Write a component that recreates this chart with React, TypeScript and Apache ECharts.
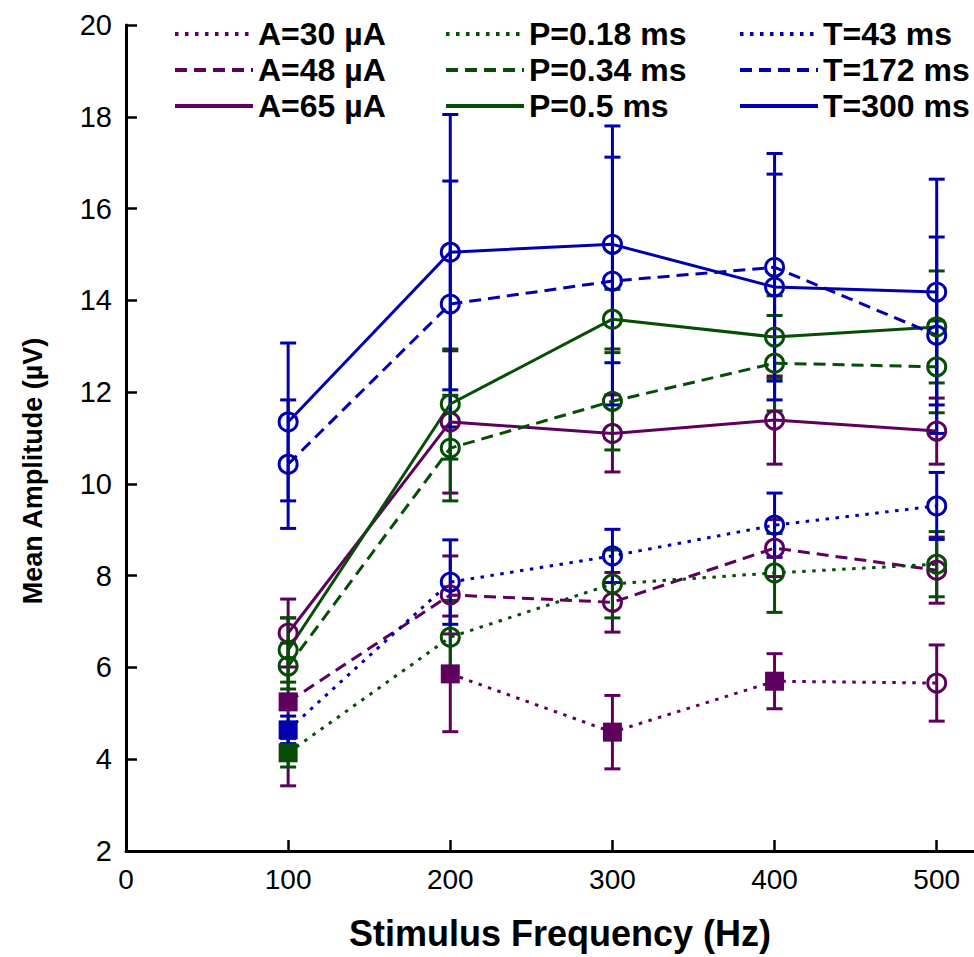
import React, { useEffect, useRef } from "react";
import * as echarts from "echarts";

// ---- data ----
const FREQ = [100, 200, 300, 400, 500];
const X_TICKS = [100, 200, 300, 400, 500];
const X_LABELS = [0, 100, 200, 300, 400, 500];

const A30_MEAN = [null, 5.86, 4.59, 5.7, 5.66];
const A30_ERR = [null, 1.26, 0.8, 0.6, 0.83];
const A30_FILLED = [0, 1, 1, 1, 0];

const A48_MEAN = [5.25, 7.58, 7.42, 8.6, 8.12];
const A48_ERR = [1.83, 0.85, 0.65, 0.62, 0.72];
const A48_FILLED = [1, 0, 0, 0, 0];

const A65_MEAN = [6.75, 11.35, 11.1, 11.39, 11.15];
const A65_ERR = [0.74, 1.55, 0.84, 0.96, 0.72];
const A65_FILLED = [0, 0, 0, 0, 0];

const P018_MEAN = [4.14, 6.66, 7.82, 8.06, 8.25];
const P018_ERR = [0.31, 0.8, 0.74, 0.86, 0.71];
const P018_FILLED = [1, 0, 0, 0, 0];

const P034_MEAN = [6.03, 10.78, 11.8, 12.63, 12.55];
const P034_ERR = [0.5, 1.15, 1.06, 1.04, 1.0];
const P034_FILLED = [0, 0, 0, 0, 0];

const P05_MEAN = [6.38, 11.74, 13.59, 13.2, 13.42];
const P05_ERR = [0.7, 1.2, 0.65, 0.9, 1.22];
const P05_FILLED = [0, 0, 0, 0, 0];

const T43_MEAN = [4.64, 7.86, 8.43, 9.1, 9.52];
const T43_ERR = [0.3, 0.92, 0.58, 0.7, 0.73];
const T43_FILLED = [1, 0, 0, 0, 0];

const T172_MEAN = [10.43, 13.92, 14.42, 14.72, 13.24];
const T172_ERR = [1.4, 2.68, 2.7, 2.48, 2.14];
const T172_FILLED = [0, 0, 0, 0, 0];

const T300_MEAN = [11.35, 15.05, 15.22, 14.29, 14.18];
const T300_ERR = [1.72, 3.0, 2.58, 2.46, 2.46];
const T300_FILLED = [0, 0, 0, 0, 0];

const PURPLE = "#5e005e";
const GREEN = "#064d06";
const BLUE = "#0000b0";

const DASHED = [12, 7];
const DOTTED = [3.5, 6.5];

const SERIES_DEFS = [
  { name: "A=30 µA", mean: A30_MEAN, err: A30_ERR, filled: A30_FILLED, color: PURPLE, dash: DOTTED },
  { name: "A=48 µA", mean: A48_MEAN, err: A48_ERR, filled: A48_FILLED, color: PURPLE, dash: DASHED },
  { name: "A=65 µA", mean: A65_MEAN, err: A65_ERR, filled: A65_FILLED, color: PURPLE, dash: "solid" },
  { name: "P=0.18 ms", mean: P018_MEAN, err: P018_ERR, filled: P018_FILLED, color: GREEN, dash: DOTTED },
  { name: "P=0.34 ms", mean: P034_MEAN, err: P034_ERR, filled: P034_FILLED, color: GREEN, dash: DASHED },
  { name: "P=0.5 ms", mean: P05_MEAN, err: P05_ERR, filled: P05_FILLED, color: GREEN, dash: "solid" },
  { name: "T=43 ms", mean: T43_MEAN, err: T43_ERR, filled: T43_FILLED, color: BLUE, dash: DOTTED },
  { name: "T=172 ms", mean: T172_MEAN, err: T172_ERR, filled: T172_FILLED, color: BLUE, dash: DASHED },
  { name: "T=300 ms", mean: T300_MEAN, err: T300_ERR, filled: T300_FILLED, color: BLUE, dash: "solid" },
];

const FONT = "'Liberation Sans', Arial, sans-serif";

function buildOption() {
  const series: any[] = [];
  SERIES_DEFS.forEach((d) => {
    const lineData = FREQ.map((x, i) => {
      const v = d.mean[i];
      if (v === null) return { value: [x, "-"] };
      if (d.filled[i]) {
        return {
          value: [x, v],
          symbol: "rect",
          symbolSize: 19,
          itemStyle: { color: d.color, borderColor: d.color, borderWidth: 0 },
        };
      }
      return { value: [x, v] };
    });
    series.push({
      name: d.name,
      type: "line",
      data: lineData,
      connectNulls: false,
      symbol: "circle",
      symbolSize: 18,
      showSymbol: true,
      itemStyle: { color: "rgba(0,0,0,0)", borderColor: d.color, borderWidth: 3 },
      lineStyle: { color: d.color, width: 3, type: d.dash },
      emphasis: { disabled: true },
      z: 3,
    });
    const errData: any[] = [];
    FREQ.forEach((x, i) => {
      const v = d.mean[i];
      const e = d.err[i];
      if (v === null || e === null) return;
      errData.push([x, v - e, v + e]);
    });
    const color = d.color;
    series.push({
      name: d.name + " err",
      type: "custom",
      data: errData,
      encode: { x: 0, y: [1, 2] },
      z: 2,
      renderItem: (params: any, api: any) => {
        const x = api.value(0);
        const lo = api.coord([x, api.value(1)]);
        const hi = api.coord([x, api.value(2)]);
        const hw = 8;
        const style = { stroke: color, lineWidth: 3 };
        return {
          type: "group",
          children: [
            { type: "line", shape: { x1: lo[0], y1: lo[1], x2: hi[0], y2: hi[1] }, style },
            { type: "line", shape: { x1: lo[0] - hw, y1: lo[1], x2: lo[0] + hw, y2: lo[1] }, style },
            { type: "line", shape: { x1: hi[0] - hw, y1: hi[1], x2: hi[0] + hw, y2: hi[1] }, style },
          ],
        };
      },
    });
  });

  const legendCommon = {
    orient: "vertical",
    itemWidth: 78,
    itemHeight: 12,
    itemGap: 4,
    top: 13,
    itemStyle: { opacity: 0 },
    lineStyle: { width: 4 },
    textStyle: {
      fontFamily: FONT,
      fontWeight: "bold",
      fontSize: 32,
      lineHeight: 31,
      color: "#000",
    },
    selectedMode: false,
  };

  return {
    animation: false,
    backgroundColor: "#fff",
    grid: { left: 126, top: 25, right: 0, bottom: 106, containLabel: false },
    legend: [
      { ...legendCommon, left: 168, data: SERIES_DEFS.slice(0, 3).map((d) => d.name) },
      { ...legendCommon, left: 439, data: SERIES_DEFS.slice(3, 6).map((d) => d.name) },
      { ...legendCommon, left: 733, data: SERIES_DEFS.slice(6, 9).map((d) => d.name) },
    ],
    xAxis: {
      type: "value",
      min: 0,
      max: 523,
      interval: 100,
      splitLine: { show: false },
      axisLine: { show: true, onZero: false, lineStyle: { color: "#000", width: 3 } },
      axisTick: {
        show: true,
        inside: true,
        length: 11,
        lineStyle: { color: "#000", width: 2.5 },
        customValues: X_TICKS,
      },
      axisLabel: {
        customValues: X_LABELS,
        color: "#000",
        fontFamily: FONT,
        fontSize: 28,
        margin: 14,
      },
      name: "Stimulus Frequency (Hz)",
      nameLocation: "middle",
      nameGap: 64,
      nameTextStyle: {
        fontFamily: FONT,
        fontWeight: "bold",
        fontSize: 36,
        color: "#000",
        padding: [0, 0, 0, 20],
      },
    },
    yAxis: {
      type: "value",
      min: 2,
      max: 20,
      interval: 2,
      splitLine: { show: false },
      axisLine: { show: true, lineStyle: { color: "#000", width: 3 } },
      axisTick: { show: true, inside: true, length: 11, lineStyle: { color: "#000", width: 2.5 } },
      axisLabel: {
        color: "#000",
        fontFamily: FONT,
        fontSize: 29,
        margin: 14,
      },
      name: "Mean Amplitude (µV)",
      nameLocation: "middle",
      nameRotate: 90,
      nameGap: 80,
      nameTextStyle: {
        fontFamily: FONT,
        fontWeight: "bold",
        fontSize: 27,
        color: "#000",
        padding: [0, 66, 0, 0],
      },
    },
    series,
  };
}

export default function App() {
  const ref = useRef<HTMLDivElement>(null);
  useEffect(() => {
    if (!ref.current) return;
    const chart = echarts.init(ref.current, null, { renderer: "svg" });
    chart.setOption(buildOption() as any);
    return () => chart.dispose();
  }, []);
  return (
    <div
      ref={ref}
      style={{ position: "absolute", left: 0, top: 0, width: 974, height: 957, background: "#fff" }}
    />
  );
}
